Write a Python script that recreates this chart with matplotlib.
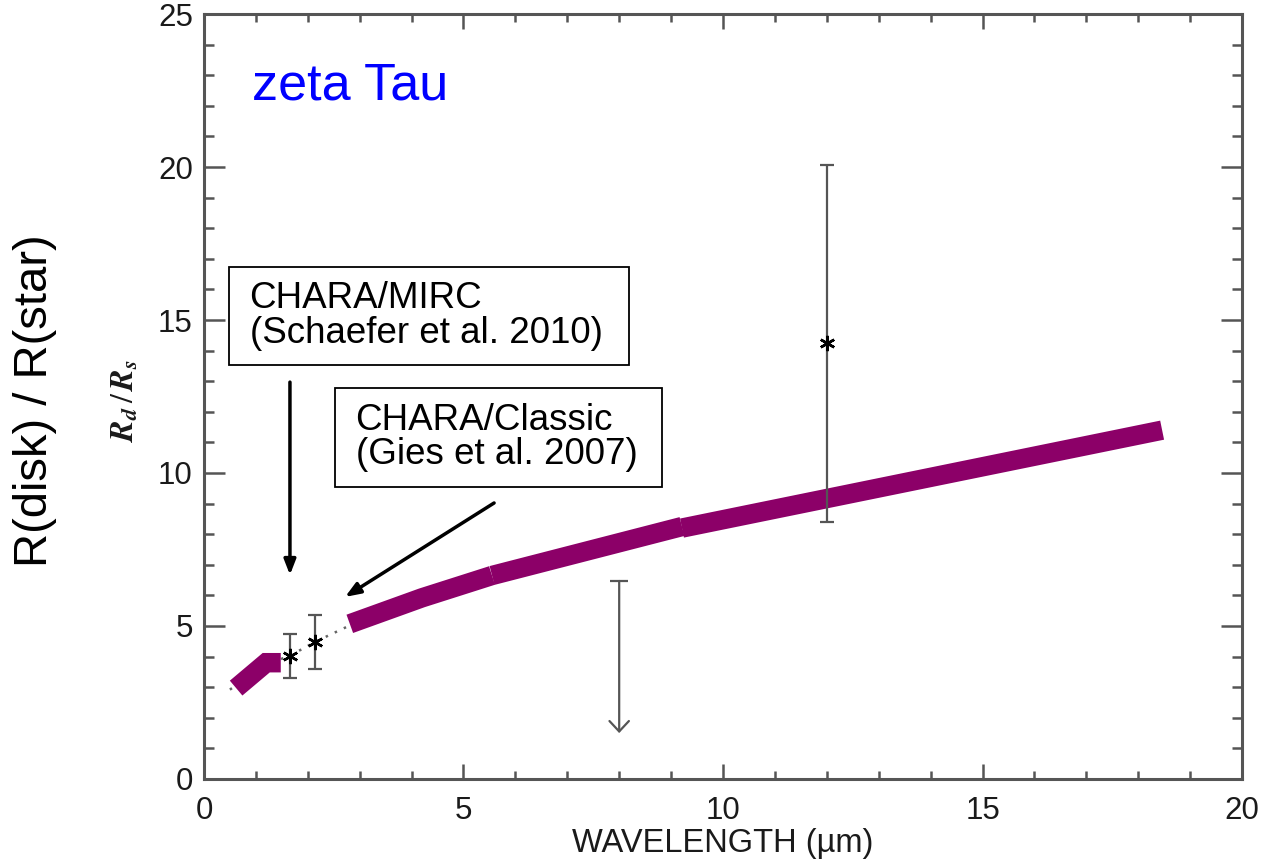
import numpy as np
import matplotlib.pyplot as plt
from matplotlib.patches import Rectangle
from matplotlib.ticker import MultipleLocator

# model disk radius segments (wavelength in micron, Rd/Rs)
seg_x = [[0.62, 1.2, 1.48], [2.81, 4.2, 5.55], [5.55, 9.21], [9.21, 18.46]]
seg_y = [[2.97, 3.8, 3.8], [5.07, 5.92, 6.65], [6.65, 8.25], [8.2, 11.4]]

# dotted model through the interferometry points
dot_x = [0.5, 1.2, 1.65, 2.14, 2.85]
dot_y = [2.92, 3.75, 4.02, 4.48, 5.05]

# measurements with error bars
pts_x = [1.657, 2.14, 12.0]
pts_y = [4.02, 4.48, 14.25]
pts_lo = [3.30, 3.59, 8.40]
pts_hi = [4.74, 5.36, 20.07]

# upper limit
ul_x = 8.0
ul_top = 6.47
ul_tip = 1.5

fig = plt.figure(figsize=(12.62, 8.66), dpi=100)
ax = fig.add_axes([0.1616, 0.1005, 0.8226, 0.8833])

purple = '#8c0068'
for sx, sy in zip(seg_x, seg_y):
    ax.plot(sx, sy, color=purple, lw=14, solid_capstyle='butt',
            solid_joinstyle='miter', zorder=3)

ax.plot(dot_x, dot_y, color='#666666', ls=(0, (1, 3)), lw=1.8, zorder=2)

px = np.array(pts_x)
py = np.array(pts_y)
yerr = [py - np.array(pts_lo), np.array(pts_hi) - py]
ax.errorbar(px, py, yerr=yerr, fmt='none', ecolor='#555555', elinewidth=1.6,
            capsize=5, capthick=1.6, zorder=4)
ax.plot(px, py, ls='none', marker=(6, 2, 0), ms=11, mec='black', mew=1.8,
        zorder=5)

# upper limit arrow
ax.plot([ul_x], [ul_top], marker='_', ms=13, mew=1.6, color='#555555')
ax.annotate('', xy=(ul_x, ul_tip), xytext=(ul_x, ul_top),
            arrowprops=dict(arrowstyle='->,head_length=0.75,head_width=0.7',
                            color='#555555', lw=1.6, shrinkA=0, shrinkB=0))

ax.set_xlim(0, 20)
ax.set_ylim(0, 25)
ax.xaxis.set_major_locator(MultipleLocator(5))
ax.xaxis.set_minor_locator(MultipleLocator(1))
ax.yaxis.set_major_locator(MultipleLocator(5))
ax.yaxis.set_minor_locator(MultipleLocator(1))

frame = '#555555'
for sp in ax.spines.values():
    sp.set_color(frame)
    sp.set_linewidth(2.2)
ax.tick_params(axis='both', which='both', direction='in', top=True, right=True,
               color=frame, width=1.8, labelsize=22.5)
ax.tick_params(axis='x', which='major', length=11, pad=12)
ax.tick_params(axis='x', which='minor', length=6)
ax.tick_params(axis='y', which='major', length=15, pad=8)
ax.tick_params(axis='y', which='minor', length=7.5)
for lab in ax.get_xticklabels() + ax.get_yticklabels():
    lab.set_fontfamily(['Liberation Sans Narrow', 'Liberation Sans'])
    lab.set_color('#1a1a1a')

ax.set_xlabel('WAVELENGTH (µm)', fontsize=23.5, labelpad=2,
              family=['Liberation Sans Narrow', 'Liberation Sans'], color='#1a1a1a')

ax.text(-0.076, 0.495, r'$\mathbfit{R}_{\mathbfit{d}}\,/\,\mathbfit{R}_{\mathbfit{s}}$',
        transform=ax.transAxes, rotation=90, ha='center', va='center',
        fontsize=23, math_fontfamily='stix', color='#1a1a1a')
ax.text(-0.163, 0.495, 'R(disk) / R(star)', transform=ax.transAxes, rotation=90,
        ha='center', va='center', fontsize=34, family='Liberation Sans')

ax.text(0.92, 22.2, 'zeta Tau', color='#0000ff', fontsize=37.5,
        family='Liberation Sans', va='baseline')

# callout boxes
ax.add_patch(Rectangle((0.48, 13.53), 8.19 - 0.48, 16.73 - 13.53, fill=False,
                       ec='black', lw=1.3, zorder=6))
ax.text(0.88, 15.13, 'CHARA/MIRC\n(Schaefer et al. 2010)', fontsize=26.5,
        family='Liberation Sans', va='center', ha='left', linespacing=0.97)
ax.add_patch(Rectangle((2.52, 9.54), 8.82 - 2.52, 12.78 - 9.54, fill=False,
                       ec='black', lw=1.3, zorder=6))
ax.text(2.92, 11.16, 'CHARA/Classic\n(Gies et al. 2007)', fontsize=26.5,
        family='Liberation Sans', va='center', ha='left', linespacing=0.97)

ax.annotate('', xy=(1.657, 6.67), xytext=(1.657, 12.97),
            arrowprops=dict(arrowstyle='-|>,head_length=0.9,head_width=0.35',
                            color='black', lw=2.5, shrinkA=0, shrinkB=0))
ax.annotate('', xy=(2.72, 5.95), xytext=(5.59, 9.02),
            arrowprops=dict(arrowstyle='-|>,head_length=0.9,head_width=0.35',
                            color='black', lw=2.5, shrinkA=0, shrinkB=0))

fig.savefig('out.png', dpi=100)
